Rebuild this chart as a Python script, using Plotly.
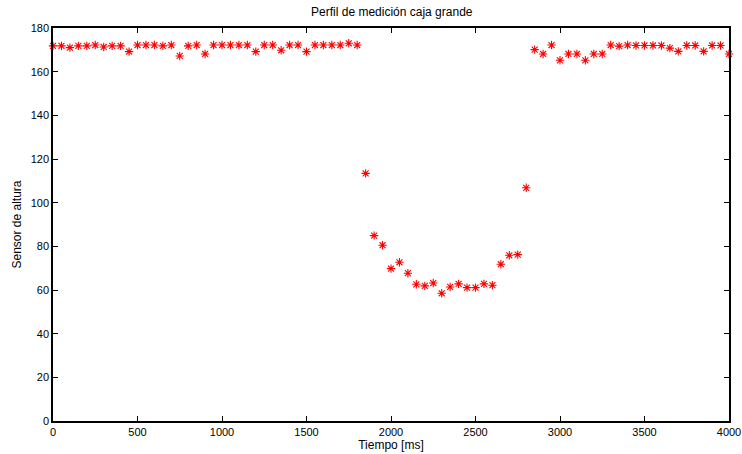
import plotly.graph_objects as go

tiempo_ms = [i * 50 for i in range(81)]
sensor_altura = [
    171.8, 171.8, 171.0, 171.8, 171.8, 172.2, 171.3, 171.8, 171.8, 169.2,
    172.2, 172.2, 172.2, 171.8, 172.2, 167.2, 171.8, 172.2, 168.1, 172.2,
    172.2, 172.2, 172.2, 172.2, 169.2, 172.2, 172.2, 169.8, 172.2, 172.2,
    169.2, 172.2, 172.2, 172.2, 172.2, 173.0, 172.2, 113.4, 84.9, 80.5,
    69.8, 72.7, 67.7, 62.6, 61.9, 63.2, 58.5, 61.4, 62.8, 61.1,
    61.1, 62.8, 62.2, 71.8, 75.9, 76.2, 106.8, 170.1, 168.1, 172.2,
    165.2, 168.1, 168.1, 165.2, 168.1, 168.1, 172.2, 171.7, 172.2, 172.0,
    172.0, 172.0, 172.0, 170.8, 169.3, 172.0, 172.0, 169.3, 172.0, 172.0,
    168.1,
]
x_ticks = [0, 500, 1000, 1500, 2000, 2500, 3000, 3500, 4000]
y_ticks = [0, 20, 40, 60, 80, 100, 120, 140, 160, 180]

fig = go.Figure()
fig.add_trace(go.Scatter(
    x=tiempo_ms, y=sensor_altura, mode="markers",
    marker=dict(symbol="asterisk-open", size=7, color="red",
                line=dict(color="red", width=1.1)),
    showlegend=False, cliponaxis=False,
))

font = dict(family="Liberation Sans, Arial, sans-serif", size=11, color="black")
axis_common = dict(
    showgrid=False, zeroline=False, showline=True, linecolor="black",
    linewidth=1.5, mirror="ticks", ticks="inside", ticklen=5,
    tickcolor="black", tickwidth=1, tickfont=font, automargin=False,
)
fig.update_layout(
    width=742, height=454,
    margin=dict(l=53, r=13, t=28, b=33),
    paper_bgcolor="white", plot_bgcolor="white",
    font=font,
    title=dict(text="Perfil de medición caja grande", x=0.528, xanchor="center",
               yref="container", y=1 - 12 / 454, yanchor="middle",
               font=dict(size=12)),
    xaxis=dict(range=[0, 4000], tickvals=x_ticks,
               title=dict(text="Tiempo [ms]", standoff=3, font=dict(size=12)),
               **axis_common),
    yaxis=dict(range=[0, 180], tickvals=y_ticks,
               title=dict(text="Sensor de altura", standoff=6, font=dict(size=12)),
               **axis_common),
)
fig.write_html(
    "out.html",
    config={"displayModeBar": False},
    post_script="document.body.style.margin='0px';document.body.style.overflow='hidden';",
)
